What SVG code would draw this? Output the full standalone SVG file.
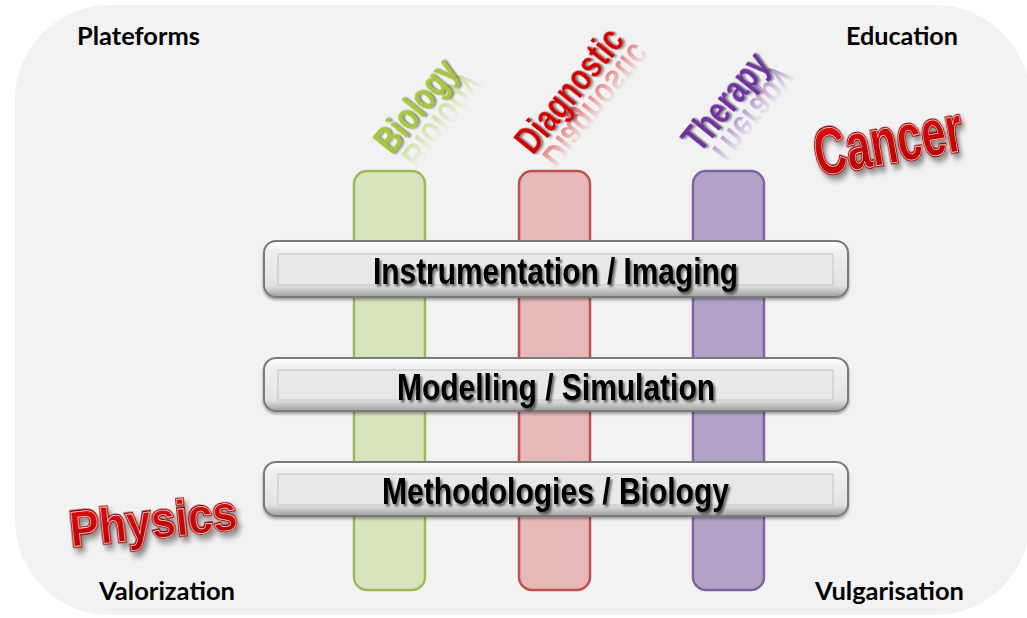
<svg xmlns="http://www.w3.org/2000/svg" width="1027" height="618" viewBox="0 0 1027 618">
  <defs>
    <style>
      .corner { font-family: Lato, "Open Sans", "Liberation Sans", sans-serif; font-weight: bold; font-size: 24px; fill: #000; }
      .bar-label { font-family: "Liberation Sans", Arial, sans-serif; font-weight: bold; font-size: 37px; fill: #000; }
      .axis { font-family: "Liberation Sans", Arial, sans-serif; font-weight: bold; font-size: 38px; }
      .big { font-family: "Liberation Sans", Arial, sans-serif; font-weight: bold; }
    </style>
    <linearGradient id="barFill" x1="0" y1="0" x2="0" y2="1">
      <stop offset="0" stop-color="#ffffff"/>
      <stop offset="0.18" stop-color="#f0f0f0"/>
      <stop offset="0.8" stop-color="#e2e2e2"/>
      <stop offset="1" stop-color="#9e9e9e"/>
    </linearGradient>
    <linearGradient id="redFill" x1="0" y1="0" x2="0" y2="1">
      <stop offset="0" stop-color="#e01010"/>
      <stop offset="1" stop-color="#b00000"/>
    </linearGradient>
    <linearGradient id="fadeGrad" gradientUnits="userSpaceOnUse" x1="0" y1="0" x2="0" y2="28">
      <stop offset="0" stop-color="#fff" stop-opacity="0.55"/>
      <stop offset="1" stop-color="#fff" stop-opacity="0"/>
    </linearGradient>
    <mask id="fade" maskUnits="userSpaceOnUse" x="-30" y="-10" width="260" height="60">
      <rect x="-30" y="-10" width="260" height="60" fill="url(#fadeGrad)"/>
    </mask>
    <filter id="textShadow" x="-20%" y="-50%" width="140%" height="200%">
      <feDropShadow dx="2" dy="2.5" stdDeviation="1.2" flood-color="#000" flood-opacity="0.55"/>
    </filter>
    <filter id="barShadow" x="-5%" y="-20%" width="110%" height="150%">
      <feDropShadow dx="0" dy="2" stdDeviation="1.5" flood-color="#000" flood-opacity="0.35"/>
    </filter>
    <filter id="axisShadow" x="-50%" y="-80%" width="200%" height="260%">
      <feDropShadow dx="2" dy="2" stdDeviation="1" flood-color="#444" flood-opacity="0.6"/>
    </filter>
    <filter id="bigShadow" x="-40%" y="-60%" width="180%" height="220%">
      <feDropShadow dx="3" dy="5" stdDeviation="3" flood-color="#000" flood-opacity="0.45"/>
    </filter>
  </defs>

  <!-- page background -->
  <rect x="0" y="0" width="1027" height="618" fill="#ffffff"/>
  <rect x="15" y="5" width="1015" height="610" rx="95" ry="95" fill="#f2f2f2"/>

  <!-- corner captions -->
  <g id="plateforms"><text class="corner" x="77" y="45" textLength="123" lengthAdjust="spacingAndGlyphs">Plateforms</text></g>
  <g id="education"><text class="corner" x="846" y="45" textLength="112" lengthAdjust="spacingAndGlyphs">Education</text></g>
  <g id="valorization"><text class="corner" x="99" y="600" textLength="136" lengthAdjust="spacingAndGlyphs">Valorization</text></g>
  <g id="vulgarisation"><text class="corner" x="815" y="600" textLength="149" lengthAdjust="spacingAndGlyphs">Vulgarisation</text></g>

  <!-- vertical columns -->
  <g id="col-biology"><rect x="354" y="171" width="71" height="419" rx="13" fill="#d7e4bd" stroke="#9bbb59" stroke-width="2.5"/></g>
  <g id="col-diagnostic"><rect x="519" y="171" width="71" height="419" rx="13" fill="#e6b9b8" stroke="#c0504d" stroke-width="2.5"/></g>
  <g id="col-therapy"><rect x="693" y="171" width="71" height="419" rx="13" fill="#b3a2c7" stroke="#8064a2" stroke-width="2.5"/></g>

  <!-- column headings (condensed, rotated) with faded reflections -->
  <g id="label-biology" transform="translate(392,156) rotate(-51)">
    <g mask="url(#fade)"><text class="axis" transform="translate(5,6) scale(0.775,-1)" fill="#a5c93b">Biology</text></g>
    <text class="axis" transform="scale(0.775,1)" fill="#a5c93b" filter="url(#axisShadow)">Biology</text>
  </g>
  <g id="label-diagnostic" transform="translate(533,156) rotate(-51)">
    <g mask="url(#fade)"><text class="axis" transform="translate(5,6) scale(0.762,-1)" fill="#d00000">Diagnostic</text></g>
    <text class="axis" transform="scale(0.762,1)" fill="#d00000" filter="url(#axisShadow)">Diagnostic</text>
  </g>
  <g id="label-therapy" transform="translate(700,154) rotate(-51)">
    <g mask="url(#fade)"><text class="axis" transform="translate(5,6) scale(0.771,-1)" fill="#7030a0">Therapy</text></g>
    <text class="axis" transform="scale(0.771,1)" fill="#7030a0" filter="url(#axisShadow)">Therapy</text>
  </g>

  <!-- horizontal bars -->
  <g id="bar-instrumentation">
    <rect x="264" y="241" width="584" height="56" rx="12" fill="url(#barFill)" stroke="#7a7a7a" stroke-width="2" filter="url(#barShadow)"/>
    <rect x="278" y="254" width="555" height="31" fill="#e8e8e8" stroke="#c4c4c4" stroke-width="1"/>
    <text class="bar-label" x="373" y="284" textLength="365" lengthAdjust="spacingAndGlyphs" filter="url(#textShadow)">Instrumentation / Imaging</text>
  </g>
  <g id="bar-modelling">
    <rect x="264" y="358" width="584" height="53" rx="12" fill="url(#barFill)" stroke="#7a7a7a" stroke-width="2" filter="url(#barShadow)"/>
    <rect x="278" y="370" width="555" height="30" fill="#e8e8e8" stroke="#c4c4c4" stroke-width="1"/>
    <text class="bar-label" x="397" y="400" textLength="318" lengthAdjust="spacingAndGlyphs" filter="url(#textShadow)">Modelling / Simulation</text>
  </g>
  <g id="bar-methodologies">
    <rect x="264" y="462" width="584" height="54" rx="12" fill="url(#barFill)" stroke="#7a7a7a" stroke-width="2" filter="url(#barShadow)"/>
    <rect x="278" y="474" width="555" height="31" fill="#e8e8e8" stroke="#c4c4c4" stroke-width="1"/>
    <text class="bar-label" x="382" y="504" textLength="347" lengthAdjust="spacingAndGlyphs" filter="url(#textShadow)">Methodologies / Biology</text>
  </g>

  <!-- embossed titles: dark outline layer with shadow, then bevelled face -->
  <g id="cancer" transform="translate(892,163) rotate(-10) scale(0.67,1)">
    <text class="big" x="0" y="0" text-anchor="middle" font-size="66" fill="#8e0000" stroke="#8e0000" stroke-width="3" filter="url(#bigShadow)">Cancer</text>
    <text class="big" x="0" y="0" text-anchor="middle" font-size="66" fill="url(#redFill)" stroke="#ffd0d0" stroke-width="0.8">Cancer</text>
  </g>
  <g id="physics" transform="translate(155,538) rotate(-6) scale(0.889,1)">
    <text class="big" x="0" y="0" text-anchor="middle" font-size="50" fill="#8e0000" stroke="#8e0000" stroke-width="3" filter="url(#bigShadow)">Physics</text>
    <text class="big" x="0" y="0" text-anchor="middle" font-size="50" fill="url(#redFill)" stroke="#ffd0d0" stroke-width="0.8">Physics</text>
  </g>
</svg>
